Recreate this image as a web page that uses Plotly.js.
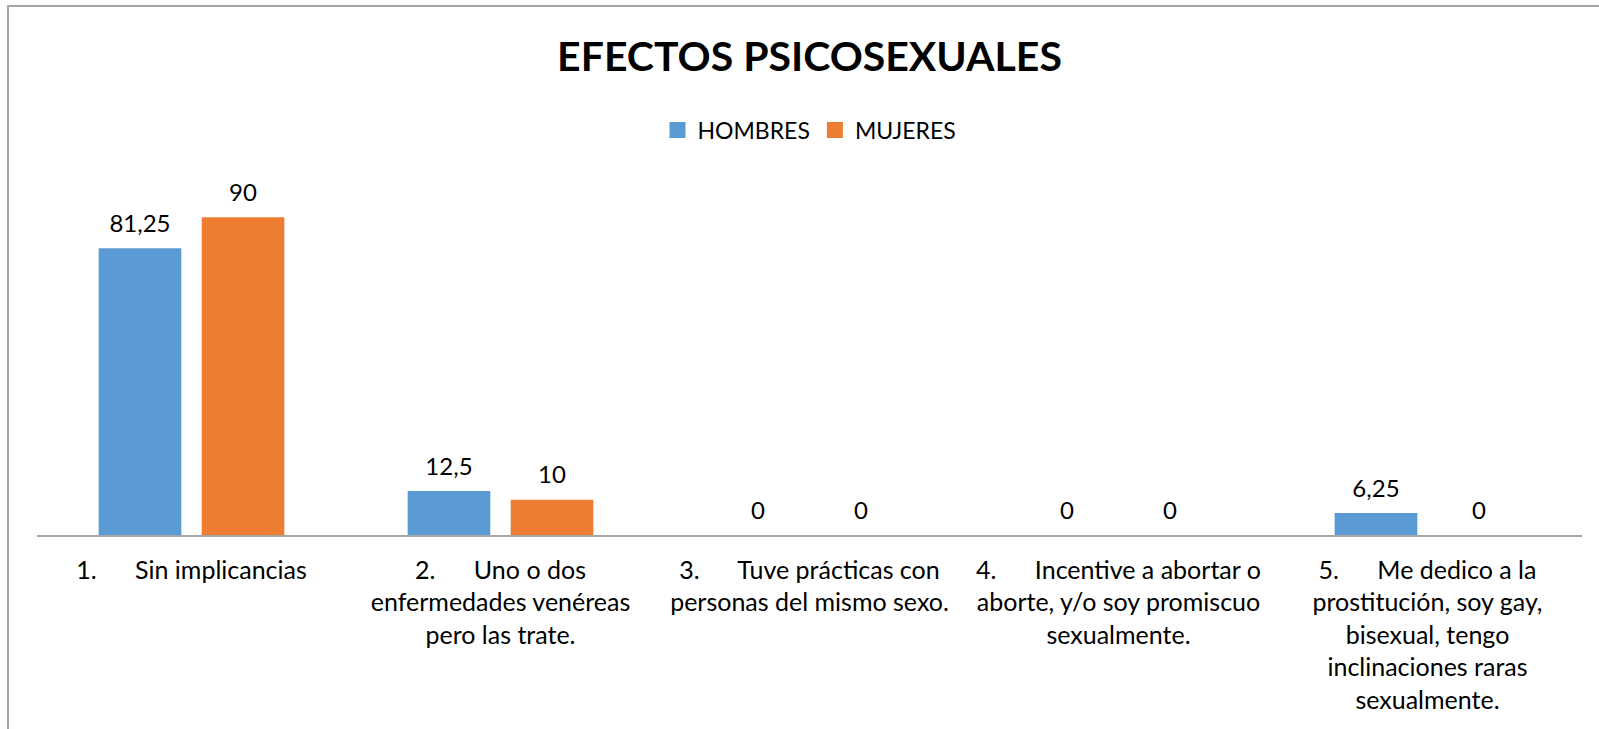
<!DOCTYPE html>
<html>
<head>
<meta charset="utf-8">
<script src="https://cdn.plot.ly/plotly-3.0.1.min.js"></script>
<style>
  html, body { margin: 0; padding: 0; background: #fff; }
  #wrap { position: relative; width: 1599px; height: 729px; overflow: hidden; }
  #chart { position: absolute; left: 0; top: 0; width: 1599px; height: 729px; }
  #frame { position: absolute; left: 7px; top: 5px; width: 1600px; height: 740px;
           border-left: 2px solid #a6a6a6; border-top: 2px solid #a6a6a6; pointer-events: none; }
</style>
</head>
<body>
<div id="wrap">
  <div id="chart"></div>
  <div id="frame"></div>
</div>
<script>
const categories = [
  "1.\tSin implicancias",
  "2.\tUno o dos<br>enfermedades venéreas<br>pero las trate.",
  "3.\tTuve prácticas con<br>personas del mismo sexo.",
  "4.\tIncentive a abortar o<br>aborte, y/o soy promiscuo<br>sexualmente.",
  "5.\tMe dedico a la<br>prostitución, soy gay,<br>bisexual, tengo<br>inclinaciones raras<br>sexualmente."
];
const hombres = [81.25, 12.5, 0, 0, 6.25];
const mujeres = [90, 10, 0, 0, 0];
const seriesNames = ["HOMBRES", "MUJERES"];
const seriesColors = ["#5B9BD5", "#ED7D31"];
const titleText = "EFECTOS PSICOSEXUALES";

const catLabels = categories.map(c => c.replace("\t", "\u00a0\u00a0\u00a0\u00a0\u00a0\u00a0"));
const fmt = v => String(v).replace(".", ",");
const FONT = "Lato, 'Open Sans', sans-serif";
const GAP = 0.333;

const series = [hombres, mujeres];
const traces = [];
series.forEach((vals, i) => {
  traces.push({ type: "bar", name: seriesNames[i], x: catLabels, y: vals,
    marker: { color: seriesColors[i] }, hoverinfo: "x+y" });
});
series.forEach((vals, i) => {
  traces.push({ type: "scatter", mode: "markers+text", x: catLabels, y: vals,
    text: vals.map(fmt), textposition: "top center", showlegend: false,
    marker: { size: 15, color: "rgba(0,0,0,0)" }, cliponaxis: false,
    textfont: { family: FONT, size: 24, color: "#000" }, hoverinfo: "skip" });
});

const layout = {
  width: 1599, height: 729,
  margin: { l: 37, r: 17, t: 182, b: 194, pad: 0 },
  paper_bgcolor: "#fff", plot_bgcolor: "#fff",
  font: { family: FONT, size: 24, color: "#000" },
  title: { text: "<b>" + titleText + "</b>", font: { family: FONT, size: 41, color: "#000" },
           x: 0.5, xanchor: "center", y: 1 - 57/729, yanchor: "middle", xref: "paper", yref: "container" },
  barmode: "group", bargap: GAP, bargroupgap: 0.198,
  scattermode: "group", scattergap: GAP,
  showlegend: true,
  legend: { orientation: "h", x: 0.5, xanchor: "center", y: (535 - 130) / 353, yanchor: "middle",
            font: { family: FONT, size: 23, color: "#000" }, itemwidth: 30, traceorder: "normal" },
  xaxis: { type: "category", showline: true, linecolor: "#a6a6a6", linewidth: 1.5,
           ticks: "", showgrid: false, zeroline: false, tickangle: 0, ticklabelstandoff: 12,
           tickfont: { family: FONT, size: 25, color: "#000" }, automargin: false },
  yaxis: { range: [0, 100], visible: false, showgrid: false, zeroline: false, fixedrange: true }
};

Plotly.newPlot("chart", traces, layout, { displayModeBar: false, staticPlot: true }).then(gd => {
  gd.querySelectorAll(".legendpoints path").forEach(p => {
    p.setAttribute("d", "M8,8H-8V-8H8Z");
  });
});
</script>
</body>
</html>
